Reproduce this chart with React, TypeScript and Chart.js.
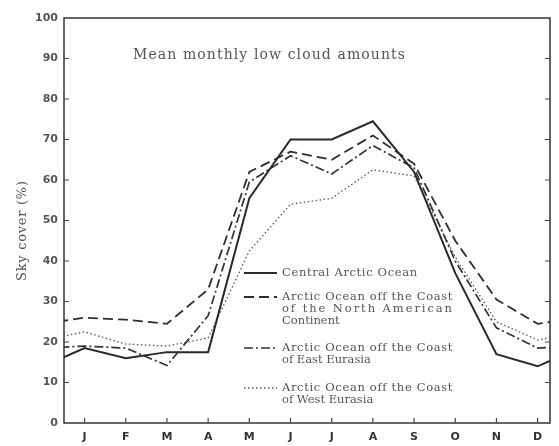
import React, { useEffect, useRef } from "react";
import { Chart, registerables } from "chart.js";

Chart.register(...registerables);

// ---------- data ----------
const months = ["J", "F", "M", "A", "M", "J", "J", "A", "S", "O", "N", "D"];
const yTickValues = [0, 10, 20, 30, 40, 50, 60, 70, 80, 90, 100];

const centralArctic = [18.5, 16, 17.5, 17.5, 55.5, 70, 70, 74.5, 62, 37, 17, 14];
const northAmerican = [26, 25.5, 24.5, 33, 62, 67, 65, 71, 64, 45, 30.5, 24.5];
const eastEurasia = [19, 18.5, 14.2, 26.5, 59.5, 66, 61.5, 68.5, 63, 40, 23.5, 18.5];
const westEurasia = [22.5, 19.5, 19, 21, 42.5, 54, 55.5, 62.5, 61, 41, 25, 20.5];

const chartTitle = "Mean monthly low cloud amounts";
const yAxisTitle = "Sky cover (%)";
const legendText = [
  ["Central Arctic Ocean"],
  ["Arctic Ocean off the Coast", "of the North American", "Continent"],
  ["Arctic Ocean off the Coast", "of East Eurasia"],
  ["Arctic Ocean off the Coast", "of West Eurasia"],
];

// wrap the annual cycle (previous December / next January) so lines reach the frame
const toPoints = (vals: number[]) => [
  { x: -1, y: vals[vals.length - 1] },
  ...vals.map((v, i) => ({ x: i, y: v })),
  { x: vals.length, y: vals[0] },
];

// ---------- styles ----------
const seriesStyles = [
  { color: "#2a2a2a", width: 2, dash: [] as number[] },
  { color: "#2e2e2e", width: 1.8, dash: [10, 5] },
  { color: "#333333", width: 1.7, dash: [9, 3, 2, 3] },
  { color: "#555555", width: 1.3, dash: [1.5, 2.5] },
];

const legendLayout = {
  sampleX0: 244,
  sampleX1: 277,
  textX: 282,
  itemY: [273, 297, 348, 388],
  lineGap: 11.8,
  widths: [
    [135],
    [170, 170, 0],
    [170, 0],
    [170, 0],
  ],
};

const serif = "'DejaVu Serif'";

function fitText(
  ctx: CanvasRenderingContext2D,
  text: string,
  x: number,
  y: number,
  target: number,
  font: string
) {
  ctx.font = font;
  (ctx as any).letterSpacing = "0px";
  if (target > 0) {
    const w = ctx.measureText(text).width;
    const ls = (target - w) / Math.max(1, text.length - 1);
    (ctx as any).letterSpacing = ls.toFixed(2) + "px";
  }
  ctx.fillText(text, x, y);
  (ctx as any).letterSpacing = "0px";
}

const decorPlugin = {
  id: "decor",
  afterDraw(chart: any) {
    const { ctx, chartArea: a, scales } = chart;
    const xs = scales.x;
    const ys = scales.y;
    ctx.save();

    // frame
    ctx.strokeStyle = "#333";
    ctx.lineWidth = 1.5;
    ctx.setLineDash([]);
    ctx.strokeRect(a.left, a.top, a.right - a.left, a.bottom - a.top);

    // inward ticks
    ctx.lineWidth = 1.2;
    ctx.strokeStyle = "#444";
    yTickValues.forEach((v) => {
      if (v <= 0 || v >= 100) return;
      const py = ys.getPixelForValue(v);
      ctx.beginPath();
      ctx.moveTo(a.left, py);
      ctx.lineTo(a.left + 5, py);
      ctx.moveTo(a.right, py);
      ctx.lineTo(a.right - 5, py);
      ctx.stroke();
    });
    months.forEach((_, i) => {
      const px = xs.getPixelForValue(i);
      ctx.beginPath();
      ctx.moveTo(px, a.bottom);
      ctx.lineTo(px, a.bottom - 5);
      ctx.stroke();
    });

    // chart title
    ctx.fillStyle = "#555";
    ctx.textAlign = "left";
    ctx.textBaseline = "middle";
    fitText(ctx, chartTitle, 133, 55, 272, `14px ${serif}`);

    // y axis title
    ctx.save();
    ctx.translate(23, 231);
    ctx.rotate(-Math.PI / 2);
    ctx.textAlign = "left";
    fitText(ctx, yAxisTitle, -50, 0, 100, `13px ${serif}`);
    ctx.restore();

    // legend
    chart.data.datasets.forEach((ds: any, i: number) => {
      const y0 = legendLayout.itemY[i];
      ctx.beginPath();
      ctx.strokeStyle = ds.borderColor;
      ctx.lineWidth = ds.borderWidth;
      ctx.setLineDash(ds.borderDash || []);
      ctx.moveTo(legendLayout.sampleX0, y0);
      ctx.lineTo(legendLayout.sampleX1, y0);
      ctx.stroke();
      ctx.setLineDash([]);
      ctx.fillStyle = "#555";
      legendText[i].forEach((line, j) => {
        fitText(
          ctx,
          line,
          legendLayout.textX,
          y0 + j * legendLayout.lineGap,
          legendLayout.widths[i][j],
          `11.5px ${serif}`
        );
      });
    });

    ctx.restore();
  },
};

export default function App() {
  const canvasRef = useRef<HTMLCanvasElement | null>(null);

  useEffect(() => {
    const canvas = canvasRef.current;
    if (!canvas) return;
    const seriesData = [centralArctic, northAmerican, eastEurasia, westEurasia];
    const chart = new Chart(canvas, {
      type: "line",
      data: {
        datasets: seriesData.map((vals, i) => ({
          label: legendText[i].join(" "),
          data: toPoints(vals),
          borderColor: seriesStyles[i].color,
          borderWidth: seriesStyles[i].width,
          borderDash: seriesStyles[i].dash,
          pointRadius: 0,
          tension: 0,
          fill: false,
        })),
      },
      options: {
        animation: false,
        responsive: false,
        maintainAspectRatio: false,
        layout: { padding: { top: 18, right: 9, bottom: 0, left: 0 } },
        plugins: {
          legend: { display: false },
          tooltip: { enabled: false },
          title: { display: false },
        },
        scales: {
          x: {
            type: "linear",
            min: -0.5,
            max: 11.3,
            grid: { display: false, drawTicks: false },
            border: { display: false },
            afterBuildTicks: (scale: any) => {
              scale.ticks = months.map((_, i) => ({ value: i }));
            },
            afterFit: (scale: any) => {
              scale.height = 23;
            },
            ticks: {
              autoSkip: false,
              maxRotation: 0,
              padding: 8,
              color: "#333",
              font: { family: "'DejaVu Sans'", size: 11, weight: "bold" },
              callback: (v: any) => months[Math.round(Number(v))] ?? "",
            },
          },
          y: {
            type: "linear",
            min: 0,
            max: 100,
            grid: { display: false, drawTicks: false },
            border: { display: false },
            afterBuildTicks: (scale: any) => {
              scale.ticks = yTickValues.map((v) => ({ value: v }));
            },
            afterFit: (scale: any) => {
              scale.width = 64;
            },
            ticks: {
              padding: 6,
              color: "#555",
              font: { family: "'DejaVu Sans'", size: 11, weight: "bold" },
              callback: (v: any) => String(v),
            },
          },
        },
      },
      plugins: [decorPlugin],
    } as any);
    return () => chart.destroy();
  }, []);

  return (
    <div style={{ position: "fixed", left: 0, top: 0, width: 559, height: 446, background: "#fff" }}>
      <canvas ref={canvasRef} width={559} height={446} style={{ display: "block" }} />
    </div>
  );
}
